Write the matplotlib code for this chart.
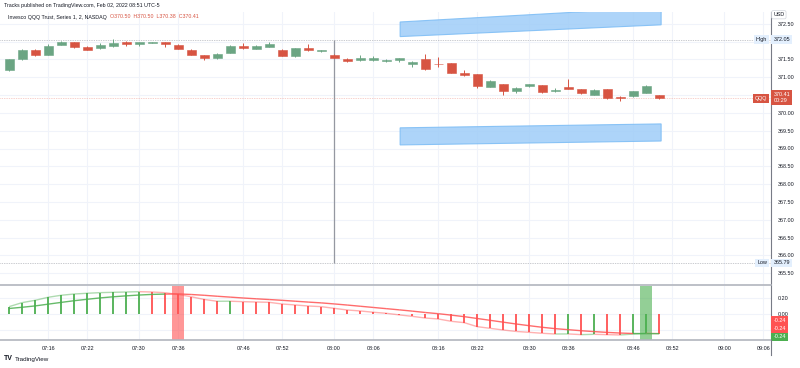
import numpy as np
import matplotlib.pyplot as plt
from matplotlib.patches import Polygon
import matplotlib.transforms as mtransforms

plt.rcParams['font.family'] = ['Liberation Sans', 'DejaVu Sans']

# ---- data (2-minute bars, 07:10 .. 08:50), time in minutes after 07:00 ----
bar_time = list(range(10, 112, 2))
opens = [371.20, 371.51, 371.77, 371.63, 371.91, 371.99, 371.86, 371.82, 371.88, 371.99,
         371.94, 371.97, 371.98, 371.91, 371.77, 371.62, 371.54, 371.68, 371.89, 371.80,
         371.86, 371.77, 371.60, 371.83, 371.74, 371.63,
         371.52, 371.47, 371.47, 371.45, 371.49, 371.38, 371.51, 371.38, 371.40, 371.12,
         371.08, 370.73, 370.81, 370.60, 370.74, 370.78, 370.60, 370.72, 370.66, 370.51,
         370.66, 370.44, 370.46, 370.57, 370.50]
highs = [371.52, 371.78, 371.78, 371.94, 372.02, 372.00, 371.88, 371.95, 372.07, 372.02,
         372.00, 372.00, 371.99, 371.92, 371.80, 371.63, 371.67, 371.90, 371.96, 371.91,
         371.98, 371.78, 371.83, 371.93, 371.77, 371.64,
         371.53, 371.62, 371.60, 371.50, 371.55, 371.45, 371.66, 371.56, 371.40, 371.21,
         371.09, 370.91, 370.82, 370.72, 370.82, 370.79, 370.70, 370.96, 370.67, 370.67,
         370.67, 370.48, 370.61, 370.78, 370.50]
lows = [371.17, 371.48, 371.59, 371.62, 371.90, 371.82, 371.75, 371.80, 371.86, 371.87,
        371.87, 371.95, 371.85, 371.78, 371.61, 371.49, 371.52, 371.67, 371.80, 371.78,
        371.85, 371.59, 371.57, 371.73, 371.72, 371.53,
        371.44, 371.45, 371.45, 371.43, 371.44, 371.29, 371.20, 371.28, 371.11, 371.03,
        370.70, 370.72, 370.51, 370.56, 370.73, 370.55, 370.58, 370.66, 370.53, 370.50,
        370.40, 370.34, 370.44, 370.56, 370.38]
closes = [371.51, 371.77, 371.63, 371.88, 371.98, 371.86, 371.77, 371.91, 371.96, 371.93,
          371.99, 371.98, 371.93, 371.79, 371.63, 371.54, 371.66, 371.89, 371.83, 371.89,
          371.94, 371.60, 371.82, 371.75, 371.75, 371.54,
          371.46, 371.55, 371.53, 371.49, 371.53, 371.43, 371.23, 371.37, 371.12, 371.06,
          370.74, 370.90, 370.60, 370.71, 370.81, 370.59, 370.65, 370.67, 370.55, 370.65,
          370.41, 370.42, 370.60, 370.76, 370.41]

fast_line = [0.098, 0.148, 0.177, 0.215, 0.240, 0.256, 0.265, 0.273, 0.277, 0.281,
             0.285, 0.281, 0.272, 0.250, 0.222, 0.188, 0.165, 0.166, 0.160, 0.156,
             0.152, 0.131, 0.119, 0.106, 0.098, 0.077, 0.056, 0.044, 0.028, 0.015,
             -0.005, -0.023, -0.044, -0.056, -0.085, -0.102, -0.152, -0.173, -0.194, -0.212,
             -0.223, -0.235, -0.244, -0.243, -0.252, -0.248, -0.252, -0.256, -0.245, -0.236,
             -0.238]
slow_line = [0.075, 0.090, 0.107, 0.129, 0.151, 0.172, 0.190, 0.207, 0.221, 0.233,
             0.243, 0.251, 0.255, 0.257, 0.250, 0.240, 0.228, 0.217, 0.206, 0.196,
             0.187, 0.177, 0.166, 0.155, 0.145, 0.132, 0.118, 0.103, 0.088, 0.073,
             0.058, 0.042, 0.025, 0.010, -0.008, -0.027, -0.050, -0.073, -0.096, -0.119,
             -0.140, -0.160, -0.177, -0.190, -0.203, -0.214, -0.224, -0.232, -0.238, -0.239,
             -0.240]

cross_down_time = 36
cross_up_time = 108

high_price = 372.05
low_price = 365.79
last_price = 370.41
session_line_time = 60

upper_channel_time = [70.15, 110.3]
upper_channel_top = [372.55, 372.96]
upper_channel_bottom = [372.14, 372.47]
lower_channel_time = [70.15, 110.3]
lower_channel_top = [369.58, 369.69]
lower_channel_bottom = [369.10, 369.21]

time_ticks = [16, 22, 30, 36, 46, 52, 60, 66, 76, 82, 90, 96, 106, 112, 120, 126]
time_labels = ['07:16', '07:22', '07:30', '07:36', '07:46', '07:52', '08:00', '08:06',
               '08:16', '08:22', '08:30', '08:36', '08:46', '08:52', '09:00', '09:06']
price_ticks = [365.5, 366.0, 366.5, 367.0, 367.5, 368.0, 368.5, 369.0, 369.5,
               370.0, 370.5, 371.0, 371.5, 372.0, 372.5]
hidden_price_labels = [370.5, 372.0]   # covered by the QQQ / High badges

GREEN = '#6ba583'
RED = '#d75442'
OSC_GREEN = '#4caf50'
OSC_RED = '#ff5252'
TXT = '#131722'
GRID = '#f0f3fa'

W, H = 800, 368
fig = plt.figure(figsize=(8, 3.68), dpi=100)


def px_rect(x0, y0, x1, y1):
    return [x0 / W, 1 - y1 / H, (x1 - x0) / W, (y1 - y0) / H]


ax1 = fig.add_axes(px_rect(0, 12, 771, 285))
ax2 = fig.add_axes(px_rect(0, 286, 771, 340), sharex=ax1)

ax1.set_xlim(8.6, 127.2)
ax1.set_ylim(365.17, 372.83)
ax2.set_ylim(-0.319, 0.356)

# ---- candles ----
body_w = 1.4
for t, o, h, l, c in zip(bar_time, opens, highs, lows, closes):
    col = GREEN if c >= o else RED
    ax1.vlines(t, l, h, color=col, lw=0.7, zorder=3)
    lo, hi = min(o, c), max(o, c)
    ax1.bar(t, max(hi - lo, 0.012), bottom=lo, width=body_w, color=col,
            edgecolor=col, lw=0.4, zorder=4)

# channels
up_poly = list(zip(upper_channel_time, upper_channel_top)) + \
    list(zip(upper_channel_time[::-1], upper_channel_bottom[::-1]))
lo_poly = list(zip(lower_channel_time, lower_channel_top)) + \
    list(zip(lower_channel_time[::-1], lower_channel_bottom[::-1]))
for poly in (up_poly, lo_poly):
    ax1.add_patch(Polygon(poly, closed=True, facecolor='#9fcdf8', edgecolor='#7bbcf5',
                          lw=0.8, alpha=0.85, zorder=2))

ax1.axhline(high_price, color='#9598a1', lw=0.5, ls=(0, (1, 1.5)), zorder=1)
ax1.axhline(low_price, color='#9598a1', lw=0.5, ls=(0, (1, 1.5)), zorder=1)
ax1.axhline(last_price, color='#f0a49a', lw=0.5, ls=(0, (1, 1.5)), zorder=1)
ax1.vlines(session_line_time, low_price, high_price, color='#9598a1', lw=0.9, zorder=2)

# ---- oscillator ----
for i, t in enumerate(bar_time):
    rising = i == 0 or fast_line[i] >= fast_line[i - 1]
    ax2.vlines(t, 0, fast_line[i], color=OSC_GREEN if rising else OSC_RED, lw=1.3, zorder=3)
for i in range(1, len(bar_time)):
    seg_t = bar_time[i - 1:i + 1]
    rising = fast_line[i] >= fast_line[i - 1]
    ax2.plot(seg_t, fast_line[i - 1:i + 1], color=OSC_GREEN if rising else OSC_RED,
             lw=1.0, alpha=0.45, zorder=4, solid_capstyle='butt')
    above = fast_line[i] > slow_line[i]
    ax2.plot(seg_t, slow_line[i - 1:i + 1], color=OSC_GREEN if above else OSC_RED,
             lw=1.0, alpha=0.85, zorder=4, solid_capstyle='butt')
ax2.axvspan(cross_down_time - 0.95, cross_down_time + 0.95, color=OSC_RED, alpha=0.6, lw=0, zorder=2)
ax2.axvspan(cross_up_time - 0.95, cross_up_time + 0.95, color=OSC_GREEN, alpha=0.6, lw=0, zorder=2)

# ---- axes styling ----
for ax in (ax1, ax2):
    ax.set_facecolor('white')
    for s in ('top', 'left'):
        ax.spines[s].set_visible(False)
    ax.spines['right'].set_color('#787b86')
    ax.spines['right'].set_linewidth(0.8)
    ax.yaxis.tick_right()
    ax.tick_params(axis='y', length=0, pad=5, labelsize=3.9, labelcolor=TXT)
    ax.set_xticks(time_ticks)
    ax.grid(True, color=GRID, lw=0.8, zorder=0)
    ax.set_axisbelow(True)

ax1.spines['bottom'].set_color('#b2b5be')
ax1.spines['bottom'].set_linewidth(1.2)
ax1.tick_params(axis='x', length=0, labelbottom=False)
ax1.set_yticks(price_ticks)
ax1.set_yticklabels(['' if p in hidden_price_labels else f'{p:.2f}' for p in price_ticks])

ax2.spines['bottom'].set_color('#b2b5be')
ax2.spines['bottom'].set_linewidth(1.2)
ax2.set_yticks([0.2, 0.0, -0.2])
ax2.set_yticklabels(['0.20', '0.00', ''])
ax2.set_xticklabels(time_labels)
ax2.tick_params(axis='x', length=0, pad=4, labelsize=3.9, labelcolor=TXT)

# ---- price-scale badges ----
blend1 = mtransforms.blended_transform_factory(ax1.transAxes, ax1.transData)
badge = dict(fontsize=3.9, va='center', zorder=10)
ax1.text(1.003, high_price, '372.05', transform=blend1, color=TXT, ha='left', clip_on=False,
         bbox=dict(boxstyle='square,pad=0.35', fc='#e3effd', ec='none'), **badge)
ax1.text(0.995, high_price, 'High', transform=blend1, color=TXT, ha='right',
         bbox=dict(boxstyle='square,pad=0.35', fc='#e3effd', ec='none'), **badge)
ax1.text(1.003, low_price, '365.79', transform=blend1, color=TXT, ha='left', clip_on=False,
         bbox=dict(boxstyle='square,pad=0.35', fc='#e3effd', ec='none'), **badge)
ax1.text(0.995, low_price, 'Low', transform=blend1, color=TXT, ha='right',
         bbox=dict(boxstyle='square,pad=0.35', fc='#e3effd', ec='none'), **badge)
ax1.text(1.003, last_price + 0.02, '370.41\n00:29', transform=blend1, color='white',
         ha='left', linespacing=1.2, clip_on=False,
         bbox=dict(boxstyle='square,pad=0.35', fc=RED, ec='none'), **badge)
ax1.text(0.995, last_price, 'QQQ', transform=blend1, color='white', ha='right',
         bbox=dict(boxstyle='square,pad=0.35', fc=RED, ec='none'), **badge)
ax1.text(1.003, 0.99, 'USD', transform=ax1.transAxes, color=TXT, ha='left', clip_on=False,
         bbox=dict(boxstyle='round,pad=0.3', fc='white', ec='#d1d4dc', lw=0.5), **badge)

ax2.text(1.003, 0.36, f'{fast_line[-1]:.2f}', transform=ax2.transAxes, color='white', ha='left',
         clip_on=False, bbox=dict(boxstyle='square,pad=0.35', fc=OSC_RED, ec='none'), **badge)
ax2.text(1.003, 0.21, f'{slow_line[-1]:.2f}', transform=ax2.transAxes, color='white', ha='left',
         clip_on=False, bbox=dict(boxstyle='square,pad=0.35', fc=OSC_RED, ec='none'), **badge)
ax2.text(1.003, 0.06, f'{slow_line[-1]:.2f}', transform=ax2.transAxes, color='white', ha='left',
         clip_on=False, bbox=dict(boxstyle='square,pad=0.35', fc=OSC_GREEN, ec='none'),
         fontsize=3.9, va='center', zorder=9)

# ---- header / footer ----
fig.text(4 / W, 1 - 6 / H, 'Tracks published on TradingView.com, Feb 02, 2022 08:51 UTC-5',
         fontsize=3.8, color=TXT, va='center', ha='left')
hdr = fig.text(8 / W, 1 - 17 / H, 'Invesco QQQ Trust, Series 1, 2, NASDAQ  ',
               fontsize=3.8, color=TXT, va='center', ha='left')
ohlc = f'O{opens[-1]:.2f}  H{highs[-1]:.2f}  L{lows[-1]:.2f}  C{closes[-1]:.2f}'
fig.canvas.draw()
bb = hdr.get_window_extent()
fig.text(bb.x1 / W, 1 - 17 / H, ohlc, fontsize=3.8, color=RED, va='center', ha='left')
fig.text(4 / W, 1 - 359 / H, 'TV', fontsize=5, fontweight='bold', color=TXT, va='center')
fig.text(15 / W, 1 - 359 / H, 'TradingView', fontsize=4.5, color=TXT, va='center')
fig.add_artist(plt.Line2D([771 / W, 771 / W], [1 - 355 / H, 1 - 340 / H], color='#787b86', lw=0.8))

fig.savefig('out.png', dpi=100, facecolor='white')
